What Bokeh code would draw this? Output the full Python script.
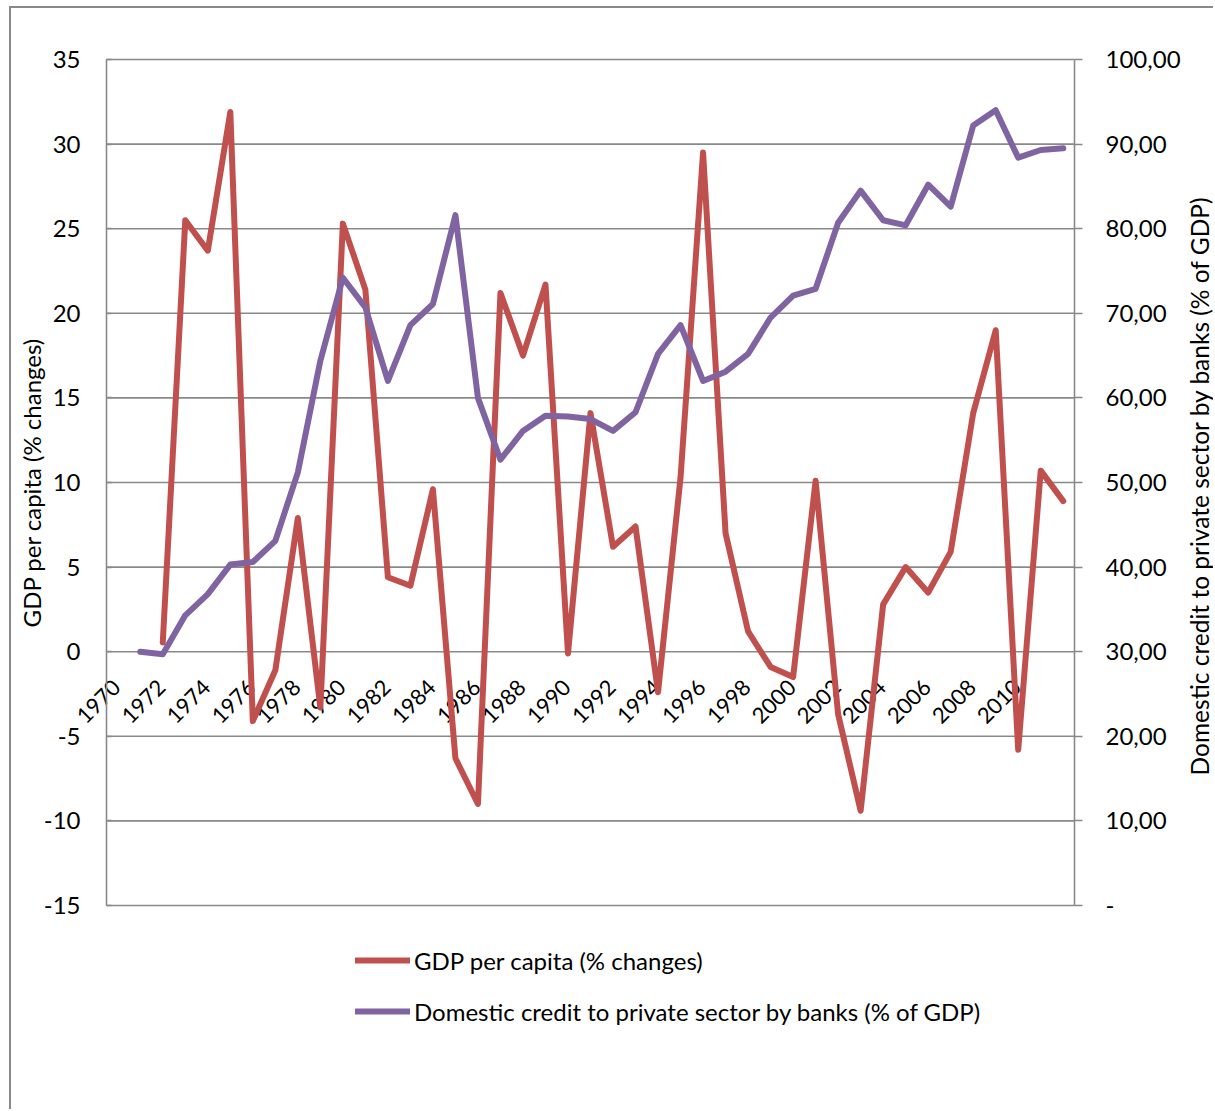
import math
from bokeh.plotting import figure
from bokeh.models import Range1d, LinearAxis, FixedTicker, Legend, LegendItem
from bokeh.core.properties import value
from bokeh.embed import file_html
from bokeh.resources import INLINE

# ---- data ----
years = list(range(1970, 2013))
gdp_years = list(range(1972, 2013))
gdp_change = [0.55, 25.5, 23.7, 31.9, -4.1, -1.1, 7.9, -3.3, 25.3, 21.4,
              4.4, 3.9, 9.6, -6.3, -9.0, 21.2, 17.5, 21.7, -0.1, 14.1,
              6.2, 7.4, -2.4, 10.3, 29.5, 7.0, 1.2, -0.9, -1.5, 10.1,
              -3.7, -9.4, 2.8, 5.0, 3.5, 5.9, 14.1, 19.0, -5.8, 10.7, 8.9]
credit_years = list(range(1971, 2013))
credit = [30.0, 29.7, 34.3, 36.8, 40.3, 40.6, 43.1, 51.2, 64.4, 74.2,
          70.7, 62.0, 68.6, 71.1, 81.6, 60.0, 52.7, 56.1, 57.9, 57.8,
          57.5, 56.1, 58.3, 65.2, 68.6, 62.0, 63.1, 65.2, 69.5, 72.1,
          72.9, 80.7, 84.5, 81.0, 80.4, 85.2, 82.6, 92.2, 94.0, 88.4,
          89.3, 89.5]
year_labels = [str(y) for y in range(1970, 2011, 2)]
left_ticks = [-15, -10, -5, 0, 5, 10, 15, 20, 25, 30, 35]
left_tick_labels = ["-15", "-10", "-5", "0", "5", "10", "15", "20", "25", "30", "35"]
right_ticks = [0, 10, 20, 30, 40, 50, 60, 70, 80, 90, 100]
right_tick_labels = ["-", "10,00", "20,00", "30,00", "40,00", "50,00",
                     "60,00", "70,00", "80,00", "90,00", "100,00"]

gdp_name = "GDP per capita (% changes)"
credit_name = "Domestic credit  to private sector by banks (% of GDP)"
credit_legend = "Domestic credit to private sector by banks (% of GDP)"

FONT = "Lato"
FS = "24px"
GRID = "#898989"
RED = "#C0504D"
PURPLE = "#8064A2"

# ---- geometry (canvas starts at page x=11, y=8) ----
W, H = 1204, 1103
PX_PER_YEAR = 968 / 43.0
PX_PER_LEFT = 846 / 50.0
PX_PER_RIGHT = 846 / 100.0
x0 = years[0] - 0.5                    # category edge at the plot-area left
x1 = years[-1] + 0.5                   # category edge at the plot-area right
x_start = x0 - 95 / PX_PER_YEAR
x_end = x_start + W / PX_PER_YEAR
y_top = 35 + 51 / PX_PER_LEFT
y_bot = y_top - H / PX_PER_LEFT
r_top = 100 + 51 / PX_PER_RIGHT
r_bot = r_top - H / PX_PER_RIGHT

p = figure(width=W, height=H,
           x_range=Range1d(x_start, x_end), y_range=Range1d(y_bot, y_top),
           output_backend="svg", toolbar_location=None,
           x_axis_location=None, y_axis_location=None,
           min_border=0)
p.styles = {"margin-left": "9px", "margin-top": "6px",
            "border-left": "2px solid #898989", "border-top": "2px solid #898989"}
p.outline_line_color = None
p.background_fill_color = "white"
p.border_fill_color = "white"
p.grid.visible = False

# horizontal gridlines across the plot area
p.segment(x0=[x0] * len(left_ticks), x1=[x1] * len(left_ticks),
          y0=left_ticks, y1=left_ticks, line_color=GRID, line_width=1.6)

# left axis
ya = LinearAxis(ticker=FixedTicker(ticks=left_ticks), fixed_location=x0,
                bounds=(-15, 35))
ya.major_label_overrides = {t: s for t, s in zip(left_ticks, left_tick_labels)}
ya.axis_label = gdp_name
ya.axis_line_color = GRID
ya.axis_line_width = 1.6
ya.major_tick_line_color = GRID
ya.major_tick_line_width = 1.6
ya.major_tick_in = 5
ya.major_tick_out = 0
ya.minor_tick_line_color = None
ya.major_label_standoff = 26
ya.axis_label_standoff = -5
ya.major_label_text_font = FONT
ya.major_label_text_font_size = FS
ya.major_label_text_color = "black"
ya.axis_label_text_font = FONT
ya.axis_label_text_font_size = FS
ya.axis_label_text_font_style = "normal"
ya.axis_label_text_color = "black"
p.add_layout(ya, "left")

# right axis
p.extra_y_ranges = {"credit": Range1d(r_bot, r_top)}
ra = LinearAxis(y_range_name="credit", ticker=FixedTicker(ticks=right_ticks),
                fixed_location=x1, bounds=(0, 100))
ra.major_label_overrides = {t: s for t, s in zip(right_ticks, right_tick_labels)}
ra.axis_line_color = GRID
ra.axis_line_width = 1.6
ra.major_tick_line_color = GRID
ra.major_tick_line_width = 1.6
ra.major_tick_in = 0
ra.major_tick_out = 8
ra.minor_tick_line_color = None
ra.major_label_standoff = 23
ra.major_label_text_font = FONT
ra.major_label_text_font_size = FS
ra.major_label_text_color = "black"
p.add_layout(ra, "right")

# right axis title, reading bottom-to-top
p.text(x=[x0 + 1093 / PX_PER_YEAR], y=[50], text=[credit_name], angle=math.pi / 2,
       text_align="center", text_baseline="middle", y_range_name="credit",
       text_font=value(FONT), text_font_size="24.5px", text_color="black")

# category labels along the zero line
lab_x = [int(s) for s in year_labels]
p.text(x=lab_x, y=[0] * len(lab_x), text=year_labels, angle=math.pi / 4,
       text_align="right", text_baseline="middle", x_offset=-1, y_offset=32,
       text_font=value(FONT), text_font_size="22px", text_color="black")

r1 = p.line(gdp_years, gdp_change, line_color=RED, line_width=6,
            line_join="round", line_cap="round")
r2 = p.line(credit_years, credit, line_color=PURPLE, line_width=6,
            line_join="round", line_cap="round", y_range_name="credit")

legend = Legend(items=[LegendItem(label=gdp_name, renderers=[r1]),
                       LegendItem(label=credit_legend, renderers=[r2])],
                location=(344, 85), orientation="vertical")
legend.glyph_width = 55
legend.glyph_height = 30
legend.label_height = 30
legend.spacing = 21
legend.padding = 0
legend.margin = 0
legend.label_standoff = 4
legend.border_line_color = None
legend.background_fill_alpha = 0
legend.label_text_font = FONT
legend.label_text_font_size = FS
legend.label_text_color = "black"
p.add_layout(legend)

open("out.html", "w").write(file_html(p, INLINE))
